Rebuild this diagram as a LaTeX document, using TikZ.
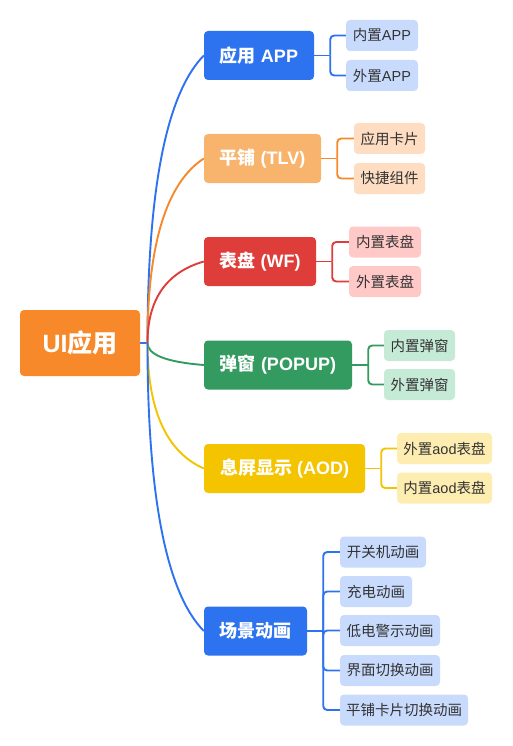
\documentclass[tikz,border=0pt]{standalone}
\usepackage{fontspec}
\setmainfont{Liberation Sans}
\newfontfamily\cjk{Noto Sans CJK SC}
\usetikzlibrary{calc,backgrounds}
\definecolor{rootc}{HTML}{F7892A}
\definecolor{bluec}{HTML}{2D73F0}
\definecolor{orangeb}{HTML}{F8B46C}
\definecolor{orangec}{HTML}{F7892A}
\definecolor{redb}{HTML}{DE3D3A}
\definecolor{greenb}{HTML}{339A60}
\definecolor{yellowb}{HTML}{F5C400}
\definecolor{bluel}{HTML}{C9DBFD}
\definecolor{orangel}{HTML}{FEDDC2}
\definecolor{redl}{HTML}{FFC9C8}
\definecolor{greenl}{HTML}{C5EAD6}
\definecolor{yellowl}{HTML}{FEEDB0}
\definecolor{txt}{HTML}{333333}
\newcommand\rootlink[2]{%
  \coordinate (q) at ($(J)!0.8!(J|-#1.west)$);
  \draw[link,#2] (J) .. controls ($(J)!0.6667!(q)$) and ($(#1.west)!0.6667!(q)$) .. (#1.west);}
\newcommand\kidlinks[3]{% branch, colour, list of children
  \draw[link,#2] (#1.east) -- ++(16,0) coordinate (j#1);
  \foreach \k in {#3}{\draw[link,#2,rounded corners=4pt] (j#1) |- (\k.west);}}
\begin{document}
\begin{tikzpicture}[x=1pt,y=-1pt,
  box/.style={rectangle, rounded corners=4pt, inner sep=0pt, align=center},
  rootbox/.style={box, fill=rootc, text=white, minimum width=120pt, minimum height=66pt, font=\fontsize{25}{29}\selectfont\bfseries},
  brbox/.style={box, text=white, minimum height=49pt, font=\fontsize{18}{21}\selectfont\bfseries},
  chbox/.style={box, text=txt, minimum height=31pt, font=\fontsize{14.5}{17}\selectfont},
  link/.style={line width=1.9pt}]
\useasboundingbox (0,0) rectangle (512,746);

\node[rootbox] (root) at (80,343) {UI{\cjk 应用}};
\coordinate (J) at (147.5,343);

\node[brbox, fill=bluec, minimum width=110pt] (b1) at (259,55.5) {{\cjk 应用} APP};
\node[brbox, fill=orangeb, minimum width=117pt] (b2) at (262.5,158.5) {{\cjk 平铺} (TLV)};
\node[brbox, fill=redb, minimum width=112pt] (b3) at (260,261.5) {{\cjk 表盘} (WF)};
\node[brbox, fill=greenb, minimum width=148pt] (b4) at (278,365) {{\cjk 弹窗} (POPUP)};
\node[brbox, fill=yellowb, minimum width=161pt] (b5) at (284.5,468.5) {{\cjk 息屏显示} (AOD)};
\node[brbox, fill=bluec, minimum width=103pt] (b6) at (255.5,631) {\cjk 场景动画};

\node[chbox, fill=bluel, minimum width=72pt] (c11) at (382,35.5) {{\cjk 内置}APP};
\node[chbox, fill=bluel, minimum width=72pt] (c12) at (382,75.5) {{\cjk 外置}APP};
\node[chbox, fill=orangel, minimum width=71pt] (c21) at (389.5,138.5) {\cjk 应用卡片};
\node[chbox, fill=orangel, minimum width=71pt] (c22) at (389.5,178.5) {\cjk 快捷组件};
\node[chbox, fill=redl, minimum width=72pt] (c31) at (385,242) {\cjk 内置表盘};
\node[chbox, fill=redl, minimum width=72pt] (c32) at (385,281.5) {\cjk 外置表盘};
\node[chbox, fill=greenl, minimum width=71pt] (c41) at (419.5,345.5) {\cjk 内置弹窗};
\node[chbox, fill=greenl, minimum width=71pt] (c42) at (419.5,384.5) {\cjk 外置弹窗};
\node[chbox, fill=yellowl, minimum width=95pt] (c51) at (444.5,448.5) {{\cjk 外置}aod{\cjk 表盘}};
\node[chbox, fill=yellowl, minimum width=95pt] (c52) at (444.5,488) {{\cjk 内置}aod{\cjk 表盘}};
\node[chbox, fill=bluel, minimum width=86pt] (c61) at (383,552) {\cjk 开关机动画};
\node[chbox, fill=bluel, minimum width=72pt] (c62) at (376,591.5) {\cjk 充电动画};
\node[chbox, fill=bluel, minimum width=100pt] (c63) at (390,630.5) {\cjk 低电警示动画};
\node[chbox, fill=bluel, minimum width=100pt] (c64) at (390,670.5) {\cjk 界面切换动画};
\node[chbox, fill=bluel, minimum width=128pt] (c65) at (404,710) {\cjk 平铺卡片切换动画};

\begin{pgfonlayer}{background}
\fill[white] (0,0) rectangle (512,746);
\draw[link,bluec] (root.east) -- (J);
\rootlink{b1}{bluec}
\rootlink{b2}{orangec}
\rootlink{b3}{redb}
\rootlink{b4}{greenb}
\rootlink{b5}{yellowb}
\rootlink{b6}{bluec}
\kidlinks{b1}{bluec}{c11,c12}
\kidlinks{b2}{orangec}{c21,c22}
\kidlinks{b3}{redb}{c31,c32}
\kidlinks{b4}{greenb}{c41,c42}
\kidlinks{b5}{yellowb}{c51,c52}
\kidlinks{b6}{bluec}{c61,c62,c63,c64,c65}
\end{pgfonlayer}
\end{tikzpicture}
\end{document}
